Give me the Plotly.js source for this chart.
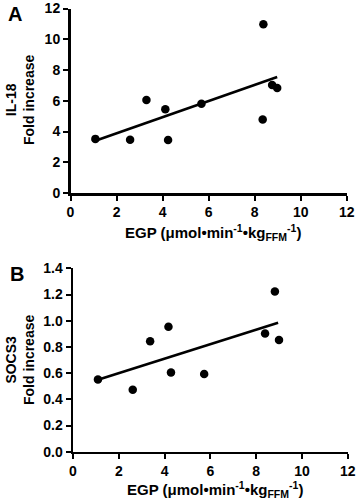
<!DOCTYPE html>
<html>
<head>
<meta charset="utf-8">
<script src="https://cdn.plot.ly/plotly-3.0.1.min.js"></script>
<style>html,body{margin:0;padding:0;background:#fff;}#chart{width:357px;height:500px;}</style>
</head>
<body>
<div id="chart"></div>
<script>
// Panel A: IL-18 fold increase vs EGP
const egpA = [1.08, 2.59, 3.30, 4.12, 4.24, 5.69, 8.38, 8.35, 8.76, 8.98];
const il18 = [3.52, 3.46, 6.05, 5.45, 3.44, 5.80, 10.98, 4.78, 7.02, 6.83];
const fitAx = [1.08, 8.98];
const fitAy = [3.40, 7.55];

// Panel B: SOCS3 fold increase vs EGP
const egpB = [1.09, 2.61, 3.37, 4.17, 4.28, 5.73, 8.82, 8.39, 9.00];
const socs3 = [0.552, 0.473, 0.843, 0.953, 0.604, 0.593, 1.223, 0.902, 0.853];
const fitBx = [1.09, 8.96];
const fitBy = [0.55, 0.984];

const xTicks = [0, 2, 4, 6, 8, 10, 12];
const xTickText = ['0', '2', '4', '6', '8', '10', '12'];
const yTicksA = [0, 2, 4, 6, 8, 10, 12];
const yTickTextA = ['0', '2', '4', '6', '8', '10', '12'];
const yTicksB = [0, 0.2, 0.4, 0.6, 0.8, 1.0, 1.2, 1.4];
const yTickTextB = ['0.0', '0.2', '0.4', '0.6', '0.8', '1.0', '1.2', '1.4'];

const W = 357, H = 500;
const px = v => v / W;
const py = v => 1 - v / H;
const FONT = 'Liberation Sans, Arial, sans-serif';
const bold = arr => arr.map(t => '<b>' + t + '</b>');
const tickFont = {family: FONT, size: 14, color: '#000', weight: 'bold'};
const titleFont = {family: FONT, size: 14, color: '#000'};
const xTitleFont = {family: FONT, size: 15, color: '#000'};
const xTitle = '<b>EGP (μmol•min<sup>-1</sup>•kg<sub>FFM</sub><sup>-1</sup>)</b>';

const marker = {symbol: 'circle', size: 8.5, color: '#000'};
const lineStyle = {color: '#000', width: 2.6};

const data = [
  {x: egpA, y: il18, xaxis: 'x', yaxis: 'y', mode: 'markers', type: 'scatter', marker: marker, cliponaxis: false},
  {x: fitAx, y: fitAy, xaxis: 'x', yaxis: 'y', mode: 'lines', type: 'scatter', line: lineStyle, cliponaxis: false},
  {x: egpB, y: socs3, xaxis: 'x2', yaxis: 'y2', mode: 'markers', type: 'scatter', marker: marker, cliponaxis: false},
  {x: fitBx, y: fitBy, xaxis: 'x2', yaxis: 'y2', mode: 'lines', type: 'scatter', line: lineStyle, cliponaxis: false}
];

const axBase = {
  showline: true, linecolor: '#000', linewidth: 2.5,
  ticks: 'outside', ticklen: 5, tickwidth: 2, tickcolor: '#000',
  showgrid: false, zeroline: false, tickfont: tickFont, fixedrange: true
};

const layout = {
  width: W, height: H,
  margin: {l: 0, r: 0, t: 0, b: 0},
  paper_bgcolor: '#fff', plot_bgcolor: '#fff',
  showlegend: false,
  xaxis: Object.assign({}, axBase, {domain: [px(70.5), px(346.7)], range: [0, 12], tickvals: xTicks, ticktext: bold(xTickText), anchor: 'y'}),
  yaxis: Object.assign({}, axBase, {domain: [py(193), py(8.5)], range: [0, 12], tickvals: yTicksA, ticktext: bold(yTickTextA), anchor: 'x'}),
  xaxis2: Object.assign({}, axBase, {domain: [px(73), px(347.7)], range: [0, 12], tickvals: xTicks, ticktext: bold(xTickText), anchor: 'y2'}),
  yaxis2: Object.assign({}, axBase, {domain: [py(451.7), py(268.3)], range: [0, 1.4], tickvals: yTicksB, ticktext: bold(yTickTextB), anchor: 'x2'}),
  annotations: [
    {text: '<b>A</b>', x: px(15), y: py(14), xref: 'paper', yref: 'paper', showarrow: false, xanchor: 'center', yanchor: 'middle', font: {family: FONT, size: 20, color: '#000'}},
    {text: '<b>B</b>', x: px(17), y: py(274), xref: 'paper', yref: 'paper', showarrow: false, xanchor: 'center', yanchor: 'middle', font: {family: FONT, size: 20, color: '#000'}},
    {text: '<b>IL-18<br>Fold increase</b>', x: px(20), y: py(100), xref: 'paper', yref: 'paper', showarrow: false, textangle: -90, xanchor: 'center', yanchor: 'middle', font: titleFont},
    {text: '<b>SOCS3<br>Fold increase</b>', x: px(20), y: py(360), xref: 'paper', yref: 'paper', showarrow: false, textangle: -90, xanchor: 'center', yanchor: 'middle', font: titleFont},
    {text: xTitle, x: px(213), y: py(233), xref: 'paper', yref: 'paper', showarrow: false, xanchor: 'center', yanchor: 'middle', font: xTitleFont},
    {text: xTitle, x: px(215), y: py(489), xref: 'paper', yref: 'paper', showarrow: false, xanchor: 'center', yanchor: 'middle', font: xTitleFont}
  ]
};

Plotly.newPlot('chart', data, layout, {staticPlot: true, displayModeBar: false});
</script>
</body>
</html>
